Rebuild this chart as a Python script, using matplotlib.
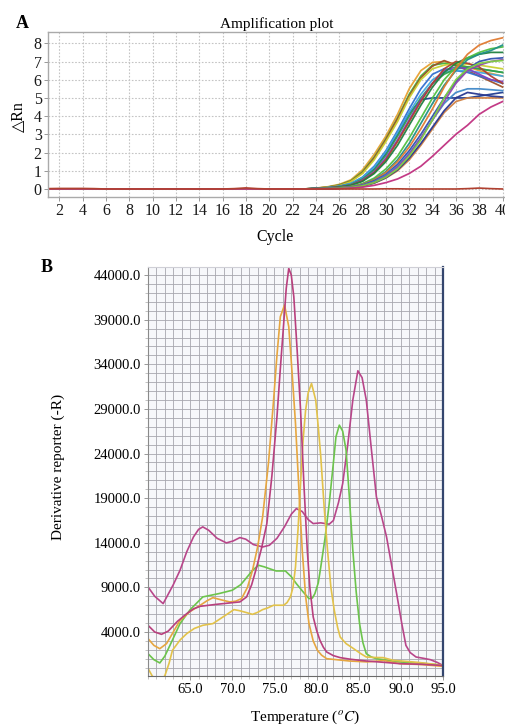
import numpy as np
import matplotlib
matplotlib.use("Agg")
import matplotlib.pyplot as plt
from matplotlib.ticker import MultipleLocator, FixedLocator

plt.rcParams['font.family'] = ['Liberation Serif', 'DejaVu Serif']
plt.rcParams['mathtext.fontset'] = 'stix'

# ---------------- Panel A data: amplification curves ----------------
cycles = list(range(1, 41))
late_cycles = list(range(24, 41))   # values below are for cycles 24..40; earlier cycles are ~0

amp_E1 = [0.05, 0.12, 0.25, 0.5, 1.05, 1.9, 2.9, 4.1, 5.5, 6.5, 6.95, 7.0, 6.85, 6.7, 6.5, 6.35, 6.2]
amp_E2 = [0.04, 0.1, 0.22, 0.45, 0.95, 1.75, 2.75, 3.9, 5.2, 6.2, 6.8, 6.9, 6.8, 6.7, 6.6, 6.5, 6.4]
amp_E3 = [0.04, 0.1, 0.2, 0.42, 0.9, 1.7, 2.7, 3.85, 5.1, 6.1, 6.75, 7.05, 6.8, 6.5, 6.2, 5.9, 5.6]
amp_E4 = [0.03, 0.09, 0.18, 0.4, 0.85, 1.6, 2.6, 3.7, 5.0, 6.0, 6.6, 6.8, 6.9, 6.85, 6.8, 6.7, 6.6]
amp_M1 = [0.03, 0.07, 0.15, 0.3, 0.65, 1.25, 2.1, 3.2, 4.4, 5.5, 6.3, 6.6, 6.5, 6.4, 6.2, 6.0, 5.8]
amp_M2 = [0.02, 0.06, 0.13, 0.27, 0.58, 1.1, 1.95, 3.0, 4.15, 4.9, 5.0, 5.0, 5.0, 5.0, 5.1, 5.2, 5.3]
amp_M3 = [0.03, 0.07, 0.14, 0.3, 0.62, 1.2, 2.05, 3.1, 4.2, 5.2, 6.0, 6.4, 6.5, 6.5, 6.4, 6.3, 6.2]
amp_M4 = [0.02, 0.06, 0.12, 0.25, 0.55, 1.05, 1.85, 2.9, 4.0, 5.0, 5.8, 6.3, 6.6, 6.7, 6.6, 6.5, 6.4]
amp_M5 = [0.02, 0.05, 0.11, 0.22, 0.5, 0.95, 1.7, 2.7, 3.8, 4.9, 5.8, 6.5, 6.7, 6.6, 6.3, 6.0, 5.9]
amp_M6 = [0.02, 0.05, 0.1, 0.2, 0.45, 0.9, 1.6, 2.6, 3.7, 4.8, 5.8, 6.6, 7.0, 6.9, 6.7, 6.2, 5.8]
amp_M7 = [0.02, 0.05, 0.1, 0.2, 0.42, 0.85, 1.5, 2.4, 3.5, 4.6, 5.6, 6.4, 6.9, 7.2, 7.4, 7.5, 7.5]
amp_L1 = [0.01, 0.03, 0.07, 0.14, 0.3, 0.6, 1.1, 1.8, 2.8, 3.9, 5.0, 6.0, 6.7, 7.2, 7.5, 7.7, 7.8]
amp_L2 = [0.01, 0.03, 0.06, 0.12, 0.26, 0.52, 0.95, 1.6, 2.5, 3.6, 4.7, 5.7, 6.5, 7.1, 7.4, 7.6, 7.9]
amp_L3 = [0.01, 0.03, 0.06, 0.12, 0.25, 0.5, 0.9, 1.5, 2.3, 3.3, 4.4, 5.6, 6.6, 7.4, 7.9, 8.15, 8.3]
amp_L4 = [0.01, 0.02, 0.05, 0.1, 0.22, 0.45, 0.8, 1.35, 2.1, 3.0, 4.0, 5.0, 5.9, 6.6, 7.0, 7.15, 7.2]
amp_L5 = [0.01, 0.02, 0.05, 0.1, 0.2, 0.4, 0.75, 1.25, 1.95, 2.8, 3.8, 4.7, 5.3, 5.5, 5.5, 5.45, 5.4]
amp_L6 = [0.01, 0.02, 0.04, 0.09, 0.18, 0.36, 0.7, 1.2, 1.9, 2.8, 3.8, 4.8, 5.8, 6.5, 6.8, 7.0, 7.1]
amp_L7 = [0.01, 0.02, 0.04, 0.08, 0.16, 0.32, 0.6, 1.0, 1.6, 2.4, 3.3, 4.2, 4.8, 5.0, 5.0, 5.0, 5.0]
amp_L8 = [0.01, 0.02, 0.04, 0.08, 0.16, 0.33, 0.62, 1.05, 1.7, 2.5, 3.4, 4.3, 5.0, 5.3, 5.2, 5.1, 5.05]
amp_L9 = [0.01, 0.02, 0.04, 0.08, 0.17, 0.35, 0.65, 1.1, 1.8, 2.7, 3.8, 5.0, 6.0, 6.6, 6.9, 7.0, 7.05]
amp_P1 = [0.0, 0.01, 0.02, 0.05, 0.1, 0.2, 0.35, 0.55, 0.85, 1.25, 1.8, 2.4, 3.0, 3.5, 4.1, 4.5, 4.8]

amp_curves = [amp_E1, amp_E2, amp_E3, amp_E4, amp_M1, amp_M2, amp_M3, amp_M4, amp_M5, amp_M6,
              amp_M7, amp_L1, amp_L2, amp_L3, amp_L4, amp_L5, amp_L6, amp_L7, amp_L8, amp_L9, amp_P1]
amp_colors = ['#e8a030', '#40b040', '#a05028', '#c8d030', '#3070d0', '#203c90', '#40a8e0', '#30a050',
              '#8040c0', '#b04030', '#208040', '#50c040', '#209088', '#e07a30', '#3050b0', '#4088c8',
              '#9048b0', '#d08040', '#283890', '#80d040', '#c03080']

# negative control, cycles 1..40
neg_ctrl = [0.02, 0.03, 0.03, 0.03, 0.02, 0, 0, 0, 0, 0, 0, 0, 0, 0, 0, 0, 0.02, 0.06, 0.02, 0,
            0, 0, 0, 0, 0, 0, 0, 0, 0, 0.01, 0.01, 0, 0, 0, 0, 0, 0.02, 0.05, 0.02, 0]

# ---------------- Panel B data: melt curves ----------------
mag_hi_T = [60.0, 60.8, 61.8, 63.0, 63.8, 64.6, 65.4, 66.0, 66.5, 67.2, 68.2, 69.3, 70.1, 70.9, 71.6,
            72.5, 73.6, 74.4, 75.3, 76.2, 77.0, 77.6, 78.3, 79.0, 79.6, 80.5, 81.5, 82.0, 82.6, 83.1,
            83.7, 84.3, 84.9, 85.4, 85.9, 86.5, 87.1, 87.7, 88.3, 88.9, 89.5, 90.1, 90.6, 91.1, 91.8,
            92.7, 93.5, 94.3, 95.0]
mag_hi_v = [9050, 8000, 7180, 9300, 10920, 13000, 14660, 15500, 15780, 15400, 14500, 13985, 14200,
            14580, 14400, 13800, 13530, 13720, 14500, 15800, 17200, 17830, 17500, 16600, 16150, 16230,
            16080, 16500, 18500, 20640, 25000, 30000, 33270, 32500, 29980, 24500, 19140, 17000, 14660,
            11500, 8300, 5000, 2500, 1700, 1200, 1050, 900, 600, 250]

mag_lo_T = [60.0, 60.8, 61.6, 62.4, 63.5, 64.6, 65.4, 66.2, 68.1, 70.9, 71.7, 72.3, 72.9, 73.5, 74.1,
            74.7, 75.3, 75.7, 76.1, 76.4, 76.7, 77.0, 77.3, 77.7, 78.1, 78.5, 78.9, 79.2, 79.6, 80.0,
            80.4, 80.8, 81.2, 82.0, 82.8, 84.0, 85.9, 88.0, 89.9, 92.5, 95.0]
mag_lo_v = [4750, 4000, 3740, 4100, 5200, 6060, 6600, 6880, 7100, 7370, 7930, 9300, 11290, 13500,
            16150, 21500, 28110, 33500, 38580, 42500, 44750, 44000, 41570, 35500, 28860, 20500, 13160,
            9000, 5690, 4200, 3070, 2300, 1760, 1350, 1130, 950, 750, 600, 450, 380, 250]

org_T = [60.0, 60.7, 61.4, 62.2, 63.0, 63.8, 65.0, 66.2, 67.0, 67.7, 68.7, 69.7, 70.4, 71.1, 71.8,
         72.4, 73.0, 73.6, 74.3, 74.9, 75.3, 75.7, 76.2, 76.7, 77.1, 77.5, 77.9, 78.3, 78.7, 79.1,
         79.6, 80.1, 80.6, 81.2, 83.9, 86.0, 88.0, 89.9, 92.5, 95.0]
org_v = [3260, 2500, 2130, 2700, 4000, 5310, 6300, 7000, 7500, 7850, 7600, 7370, 7450, 7740, 9000,
         10920, 13500, 16900, 23000, 29980, 35000, 39330, 40640, 38210, 33000, 27370, 20000, 13160,
         8000, 4940, 3000, 1950, 1400, 1010, 750, 650, 800, 450, 350, 150]

grn_T = [60.0, 60.7, 61.4, 62.0, 62.8, 63.8, 65.0, 66.5, 68.4, 70.0, 71.0, 71.6, 72.4, 73.1, 73.8,
         74.4, 75.2, 76.3, 77.0, 77.6, 78.4, 79.1, 79.5, 79.8, 80.2, 80.5, 81.0, 81.5, 82.0, 82.3,
         82.7, 83.1, 83.5, 83.9, 84.3, 84.7, 85.1, 85.5, 85.9, 86.5, 87.1, 89.9, 92.5, 95.0]
grn_v = [1570, 900, 530, 1300, 2900, 4940, 6500, 7930, 8300, 8680, 9300, 9980, 10900, 11480, 11300,
         11100, 10840, 10840, 10200, 9420, 8500, 7740, 7800, 8300, 9500, 11290, 14500, 18390, 23000,
         25870, 27180, 26500, 24380, 19000, 13160, 8500, 4940, 2800, 1570, 1200, 1010, 640, 500, 270]

yel_T = [60.0, 60.5, 61.3, 62.0, 62.5, 62.9, 63.8, 64.6, 65.5, 66.5, 67.7, 68.9, 70.2, 70.8, 71.4,
         72.4, 73.0, 73.6, 74.2, 74.9, 76.1, 76.5, 76.9, 77.2, 77.5, 77.8, 78.1, 78.4, 78.7, 79.0,
         79.4, 79.9, 80.2, 80.5, 80.9, 81.3, 81.7, 82.1, 82.5, 82.8, 83.5, 84.4, 85.2, 85.9, 86.8,
         87.9, 89.1, 92.0, 95.0]
yel_v = [-70, -930, -1600, -900, 500, 1950, 3100, 3820, 4400, 4750, 4940, 5690, 6510, 6400, 6250,
         5980, 6200, 6510, 6700, 7000, 7000, 7300, 7930, 9000, 11290, 15500, 20640, 25500, 28860,
         30800, 31850, 29980, 27000, 23630, 18000, 13160, 9000, 6430, 4500, 3440, 2700, 2130, 1600,
         1200, 1150, 1130, 830, 600, 270]

melt_series = [(mag_hi_T, mag_hi_v, '#b8468a'), (grn_T, grn_v, '#6cc44c'),
               (yel_T, yel_v, '#e2c24a'), (org_T, org_v, '#e6a640'),
               (mag_lo_T, mag_lo_v, '#b8407e')]

amp_xticks = list(range(2, 41, 2))
amp_yticks = list(range(0, 9))
melt_xticks = [65.0, 70.0, 75.0, 80.0, 85.0, 90.0, 95.0]
melt_yticks = [4000.0, 9000.0, 14000.0, 19000.0, 24000.0, 29000.0, 34000.0, 39000.0, 44000.0]

# ---------------- Figure ----------------
W, H = 505, 725
fig = plt.figure(figsize=(W / 100, H / 100), dpi=100)

def fx(px):
    return px / W

def fy(py):
    return 1 - py / H

# Panel A
axA = fig.add_axes([fx(48), fy(197), fx(505) - fx(48) + 0.002, fy(32) - fy(197)])
for vals, col in zip(amp_curves, amp_colors):
    y = [0.0] * (late_cycles[0] - 1) + vals
    axA.plot(cycles, y, color=col, lw=1.25, alpha=0.95, solid_joinstyle='round')
axA.plot(cycles, neg_ctrl, color='#b04030', lw=1.2)
axA.set_xlim(1.03, 40.3)
axA.set_ylim(-0.44, 8.62)
axA.xaxis.set_major_locator(FixedLocator(amp_xticks))
axA.yaxis.set_major_locator(FixedLocator(amp_yticks))
axA.grid(True, color='#c4c4c4', ls=(0, (1.5, 1.5)), lw=0.8)
for s in axA.spines.values():
    s.set_color('#aaaaaa')
    s.set_linewidth(1.0)
axA.tick_params(axis='both', labelsize=11.5, colors='#888888', length=3, width=0.6, pad=1.5,
                labelcolor='#1a1a1a')
axA.set_title('Amplification plot', fontsize=11, pad=3)
fig.text(fx(275), fy(237), 'Cycle', fontsize=11.5, ha='center', va='center')
fig.text(fx(18), fy(117), '△Rn', fontsize=11.5, ha='center', va='center', rotation=90,
         family=['Liberation Serif', 'DejaVu Sans'])
fig.text(fx(22), fy(24), 'A', fontsize=13, fontweight='bold', ha='center', va='center')

# Panel B
axB = fig.add_axes([fx(148), fy(676), fx(443) - fx(148), fy(267) - fy(676)])
axB.set_facecolor('#f6f7fa')
for T, v, col in melt_series:
    axB.plot(T, v, color=col, lw=1.2, solid_joinstyle='round')
axB.set_xlim(60.0, 95.0)
axB.set_ylim(-930, 44900)
axB.xaxis.set_major_locator(FixedLocator(melt_xticks))
axB.yaxis.set_major_locator(FixedLocator(melt_yticks))
axB.xaxis.set_minor_locator(MultipleLocator(1.0))
axB.yaxis.set_minor_locator(MultipleLocator(1000.0))
axB.set_xticklabels(['%.1f' % t for t in melt_xticks])
axB.set_yticklabels(['%.1f' % t for t in melt_yticks])
axB.grid(True, which='both', color='#a6a6ae', lw=0.6)
axB.set_axisbelow(True)
axB.tick_params(axis='both', which='major', labelsize=10.5, length=3, width=0.6, color='#888888',
                pad=2)
axB.tick_params(axis='both', which='minor', length=2, width=0.5, color='#aaaaaa')
axB.spines['left'].set_color('#8a8a8a')
axB.spines['bottom'].set_color('#6a6a6a')
axB.spines['top'].set_color('#cfcfd6')
axB.spines['right'].set_color('#34466e')
axB.spines['right'].set_linewidth(1.6)
fig.text(fx(58), fy(467), 'Derivative reporter (-R)', fontsize=11, ha='center', va='center',
         rotation=90)
fig.text(fx(305), fy(717), 'Temperature ($^{o}C$)', fontsize=11, ha='center', va='center')
fig.text(fx(47), fy(268), 'B', fontsize=13, fontweight='bold', ha='center', va='center')

fig.savefig('out.png', dpi=100)
